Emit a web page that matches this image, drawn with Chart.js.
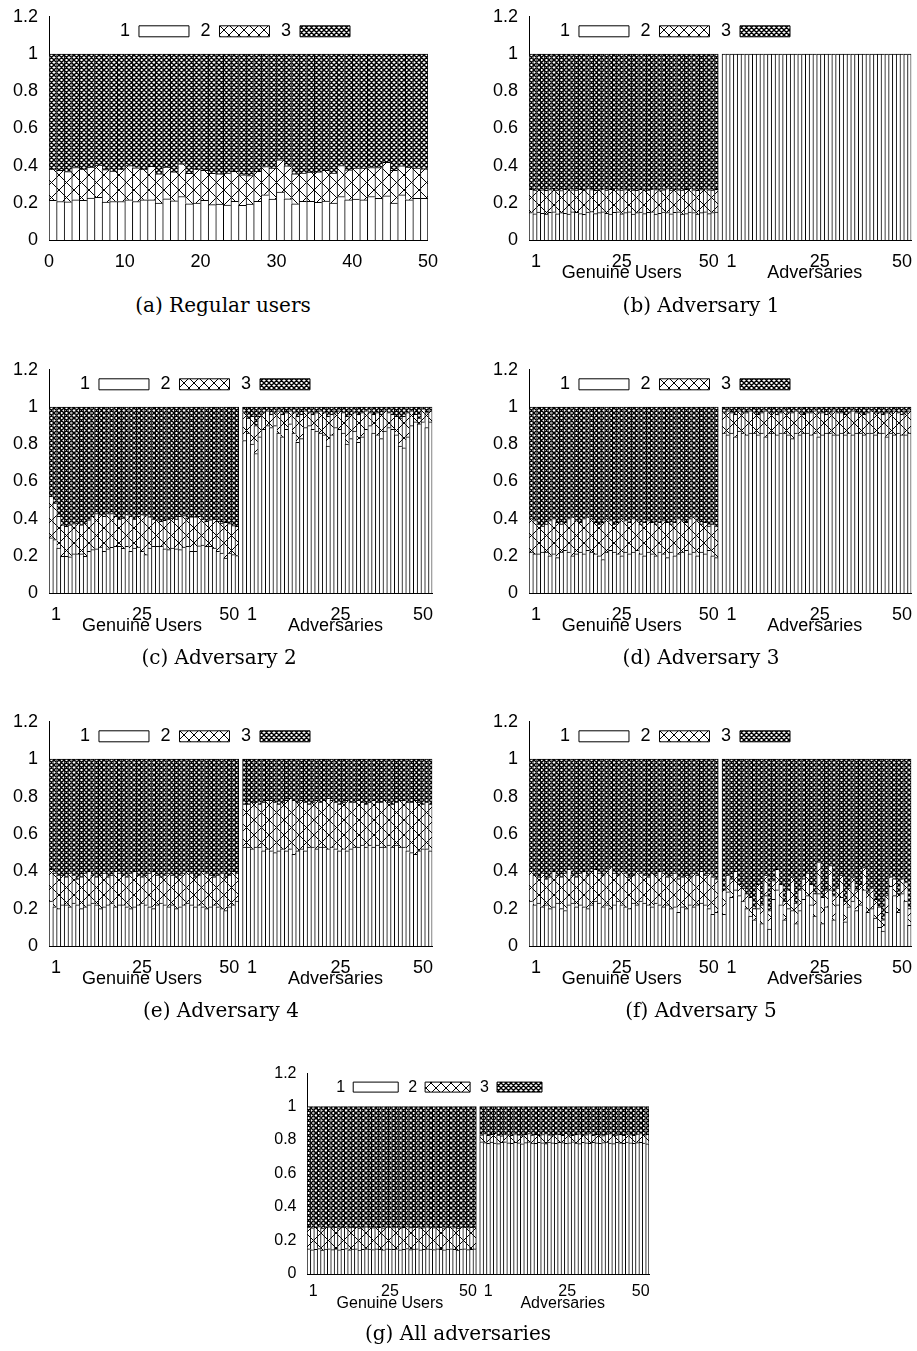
<!DOCTYPE html>
<html><head><meta charset="utf-8">
<script src="https://cdn.jsdelivr.net/npm/chart.js@4.4.0/dist/chart.umd.min.js"></script>
<style>
html,body{margin:0;padding:0;background:#fff;}
body{width:917px;height:1351px;position:relative;overflow:hidden;}
.wrap{position:absolute;}
.wrap canvas{display:block;}
.cap{position:absolute;width:320px;text-align:center;font-family:'DejaVu Serif',serif;font-size:20px;line-height:20px;color:#000;white-space:nowrap;}
</style></head><body>
<script>
// ---------------- data (fraction boundaries) ----------------
const seriesNames = ['1', '2', '3'];
const regularTicks = [0, 10, 20, 30, 40, 50];
const tickSlots = [1, 25, 50];
const genuineTickLabels = ['  1', ['25', 'Genuine Users'], '50   '];
const adversaryTickLabels = ['   1', ['  25', 'Adversaries'], '50   '];
const captions = ['(a) Regular users', '(b) Adversary 1', '(c) Adversary 2', '(d) Adversary 3',
  '(e) Adversary 4', '(f) Adversary 5', '(g) All adversaries'];

// (a) regular users: top of class 1, top of class 2
const regularTop1 = [0.213,0.207,0.205,0.216,0.213,0.225,0.229,0.204,0.207,0.207,
  0.216,0.207,0.216,0.216,0.199,0.222,0.211,0.234,0.195,0.199,
  0.213,0.190,0.193,0.188,0.208,0.186,0.193,0.208,0.243,0.220,
  0.258,0.222,0.195,0.208,0.208,0.202,0.209,0.199,0.234,0.216,
  0.220,0.216,0.234,0.224,0.238,0.199,0.243,0.216,0.224,0.224];
const regularTop2 = [0.381,0.374,0.368,0.390,0.381,0.392,0.403,0.378,0.370,0.381,
  0.400,0.388,0.381,0.396,0.356,0.392,0.366,0.410,0.358,0.381,
  0.374,0.358,0.356,0.360,0.369,0.351,0.347,0.369,0.395,0.386,
  0.431,0.399,0.356,0.360,0.365,0.366,0.374,0.360,0.400,0.377,
  0.386,0.386,0.390,0.390,0.417,0.374,0.399,0.392,0.386,0.383];

// (b) adversary 1
const adv1GenuineTop1 = [0.148,0.141,0.150,0.143,0.139,0.149,0.152,0.141,0.147,0.143,
  0.140,0.151,0.149,0.142,0.138,0.150,0.153,0.142,0.147,0.151,
  0.143,0.140,0.149,0.152,0.141,0.148,0.151,0.140,0.147,0.150,
  0.142,0.149,0.151,0.139,0.143,0.150,0.148,0.141,0.149,0.152,
  0.140,0.142,0.150,0.148,0.139,0.147,0.151,0.142,0.148,0.150];
const adv1GenuineTop2 = [0.272,0.268,0.275,0.270,0.267,0.271,0.278,0.269,0.266,0.272,
  0.280,0.270,0.268,0.273,0.269,0.276,0.271,0.267,0.270,0.274,
  0.269,0.272,0.279,0.270,0.268,0.271,0.275,0.269,0.267,0.273,
  0.270,0.268,0.274,0.271,0.266,0.270,0.277,0.269,0.272,0.270,
  0.268,0.273,0.279,0.270,0.267,0.271,0.275,0.270,0.268,0.272];
const adv1AdversaryTop1 = [1,1,1,1,1,1,1,1,1,1, 1,1,1,1,1,1,1,1,1,1, 1,1,1,1,1,1,1,1,1,1,
  1,1,1,1,1,1,1,1,1,1, 1,1,1,1,1,1,1,1,1,1];
const adv1AdversaryTop2 = [1,1,1,1,1,1,1,1,1,1, 1,1,1,1,1,1,1,1,1,1, 1,1,1,1,1,1,1,1,1,1,
  1,1,1,1,1,1,1,1,1,1, 1,1,1,1,1,1,1,1,1,1];

// (c) adversary 2
const adv2GenuineTop1 = [0.296,0.287,0.242,0.197,0.197,0.194,0.210,0.210,0.210,0.197,
  0.224,0.233,0.237,0.247,0.224,0.237,0.246,0.251,0.251,0.240,
  0.251,0.224,0.242,0.247,0.224,0.206,0.242,0.251,0.251,0.251,
  0.237,0.233,0.242,0.237,0.233,0.247,0.251,0.224,0.224,0.254,
  0.258,0.251,0.251,0.242,0.224,0.215,0.188,0.215,0.206,0.201];
const adv2GenuineTop2 = [0.520,0.484,0.412,0.367,0.358,0.367,0.373,0.376,0.367,0.376,
  0.394,0.412,0.427,0.421,0.412,0.427,0.427,0.412,0.398,0.403,
  0.421,0.412,0.398,0.412,0.421,0.416,0.409,0.398,0.394,0.385,
  0.391,0.398,0.403,0.398,0.412,0.416,0.403,0.409,0.409,0.412,
  0.398,0.385,0.394,0.398,0.385,0.376,0.380,0.373,0.362,0.358];
const adv2AdversaryTop1 = [0.82,0.86,0.80,0.75,0.84,0.88,0.90,0.89,0.90,0.86,
  0.84,0.88,0.91,0.86,0.81,0.83,0.89,0.90,0.88,0.87,
  0.86,0.85,0.79,0.85,0.89,0.88,0.86,0.80,0.83,0.87,
  0.81,0.84,0.88,0.90,0.86,0.85,0.83,0.87,0.89,0.88,
  0.85,0.79,0.78,0.84,0.90,0.92,0.91,0.92,0.89,0.92];
const adv2AdversaryTop2 = [0.97,0.94,0.95,0.90,0.95,0.97,0.98,0.96,0.97,0.98,
  0.96,0.97,0.98,0.97,0.95,0.96,0.98,0.97,0.96,0.97,
  0.98,0.97,0.95,0.96,0.97,0.98,0.97,0.95,0.96,0.97,
  0.96,0.97,0.98,0.97,0.96,0.97,0.96,0.98,0.97,0.96,
  0.95,0.94,0.95,0.97,0.98,0.96,0.94,0.99,0.97,0.98];

// (d) adversary 3
const adv3GenuineTop1 = [0.22,0.21,0.21,0.22,0.22,0.20,0.21,0.19,0.22,0.23,
  0.22,0.20,0.21,0.22,0.21,0.23,0.22,0.21,0.20,0.18,
  0.22,0.23,0.22,0.21,0.20,0.22,0.21,0.22,0.23,0.21,
  0.20,0.22,0.21,0.20,0.22,0.21,0.19,0.22,0.20,0.21,
  0.22,0.23,0.21,0.22,0.20,0.22,0.21,0.23,0.20,0.19];
const adv3GenuineTop2 = [0.40,0.39,0.37,0.36,0.37,0.39,0.40,0.38,0.37,0.38,
  0.40,0.41,0.39,0.38,0.40,0.41,0.40,0.38,0.37,0.38,
  0.40,0.39,0.37,0.38,0.40,0.39,0.38,0.40,0.39,0.37,
  0.38,0.39,0.38,0.37,0.38,0.39,0.38,0.37,0.38,0.40,
  0.39,0.38,0.40,0.41,0.39,0.37,0.38,0.36,0.37,0.36];
const adv3AdversaryTop1 = [0.86,0.85,0.86,0.84,0.87,0.86,0.85,0.86,0.86,0.85,
  0.86,0.84,0.86,0.86,0.85,0.86,0.86,0.85,0.83,0.86,
  0.85,0.86,0.86,0.85,0.86,0.84,0.85,0.86,0.86,0.85,
  0.85,0.86,0.85,0.86,0.85,0.86,0.86,0.85,0.86,0.86,
  0.85,0.86,0.86,0.84,0.86,0.85,0.86,0.85,0.85,0.86];
const adv3AdversaryTop2 = [0.97,0.98,0.97,0.96,0.98,0.97,0.97,0.98,0.97,0.96,
  0.97,0.98,0.97,0.97,0.96,0.97,0.98,0.97,0.97,0.98,
  0.97,0.96,0.97,0.97,0.98,0.97,0.97,0.96,0.97,0.98,
  0.97,0.97,0.96,0.97,0.98,0.97,0.97,0.96,0.97,0.98,
  0.97,0.97,0.96,0.97,0.97,0.98,0.97,0.96,0.97,0.98];

// (e) adversary 4
const adv4GenuineTop1 = [0.24,0.21,0.20,0.22,0.22,0.21,0.23,0.22,0.20,0.21,
  0.22,0.23,0.22,0.20,0.21,0.22,0.23,0.21,0.22,0.22,
  0.21,0.20,0.21,0.22,0.23,0.22,0.21,0.20,0.22,0.23,
  0.22,0.21,0.22,0.20,0.21,0.22,0.23,0.22,0.21,0.22,
  0.21,0.20,0.21,0.22,0.21,0.20,0.19,0.21,0.22,0.24];
const adv4GenuineTop2 = [0.41,0.39,0.38,0.38,0.37,0.39,0.38,0.36,0.37,0.39,
  0.40,0.38,0.37,0.38,0.39,0.37,0.38,0.40,0.39,0.38,
  0.37,0.39,0.40,0.38,0.37,0.38,0.39,0.40,0.38,0.37,
  0.38,0.39,0.38,0.37,0.38,0.39,0.40,0.39,0.37,0.38,
  0.40,0.39,0.38,0.37,0.38,0.39,0.37,0.38,0.40,0.39];
const adv4AdversaryTop1 = [0.53,0.53,0.52,0.53,0.53,0.51,0.52,0.51,0.50,0.51,
  0.52,0.51,0.52,0.49,0.51,0.52,0.51,0.53,0.53,0.52,
  0.53,0.53,0.52,0.53,0.52,0.51,0.52,0.51,0.52,0.53,
  0.53,0.54,0.53,0.54,0.53,0.54,0.53,0.53,0.54,0.53,
  0.54,0.53,0.53,0.51,0.50,0.49,0.51,0.52,0.52,0.51];
const adv4AdversaryTop2 = [0.76,0.76,0.77,0.77,0.76,0.77,0.78,0.78,0.77,0.76,
  0.77,0.78,0.79,0.78,0.77,0.78,0.77,0.76,0.77,0.78,
  0.77,0.78,0.79,0.78,0.77,0.76,0.77,0.78,0.77,0.77,
  0.78,0.77,0.76,0.77,0.78,0.77,0.77,0.78,0.77,0.76,
  0.77,0.78,0.78,0.77,0.77,0.78,0.77,0.76,0.77,0.76];

// (f) adversary 5
const adv5GenuineTop1 = [0.24,0.22,0.23,0.21,0.22,0.20,0.21,0.23,0.20,0.19,
  0.22,0.23,0.21,0.22,0.21,0.20,0.22,0.24,0.23,0.21,
  0.22,0.20,0.22,0.24,0.22,0.21,0.20,0.23,0.22,0.24,
  0.23,0.22,0.21,0.23,0.22,0.21,0.22,0.20,0.21,0.18,
  0.21,0.20,0.22,0.21,0.22,0.23,0.22,0.20,0.17,0.18];
const adv5GenuineTop2 = [0.40,0.38,0.37,0.39,0.36,0.37,0.40,0.38,0.37,0.39,
  0.41,0.38,0.37,0.39,0.40,0.38,0.40,0.41,0.39,0.38,
  0.40,0.42,0.39,0.38,0.40,0.39,0.37,0.38,0.40,0.39,
  0.38,0.37,0.39,0.38,0.40,0.39,0.37,0.38,0.39,0.36,
  0.37,0.38,0.37,0.39,0.38,0.40,0.38,0.39,0.37,0.36];
const adv5AdversaryTop1 = [0.17,0.29,0.26,0.30,0.27,0.24,0.20,0.16,0.14,0.20,
  0.12,0.27,0.09,0.25,0.30,0.22,0.14,0.20,0.19,0.12,
  0.19,0.25,0.27,0.22,0.16,0.28,0.12,0.21,0.30,0.14,
  0.22,0.26,0.13,0.21,0.24,0.19,0.22,0.30,0.18,0.20,
  0.15,0.10,0.08,0.18,0.32,0.27,0.18,0.28,0.24,0.11];
const adv5AdversaryTop2 = [0.30,0.38,0.36,0.40,0.33,0.31,0.28,0.26,0.20,0.33,
  0.22,0.38,0.19,0.35,0.41,0.33,0.24,0.30,0.37,0.23,
  0.30,0.36,0.39,0.33,0.28,0.45,0.26,0.30,0.43,0.27,
  0.31,0.38,0.24,0.31,0.37,0.30,0.33,0.42,0.29,0.31,
  0.25,0.21,0.14,0.27,0.37,0.36,0.28,0.36,0.34,0.20];

// (g) all adversaries
const allGenuineTop1 = [0.150,0.145,0.148,0.152,0.143,0.149,0.151,0.146,0.150,0.144,
  0.148,0.152,0.145,0.149,0.150,0.143,0.147,0.151,0.149,0.146,
  0.150,0.148,0.144,0.151,0.149,0.147,0.150,0.145,0.148,0.152,
  0.146,0.149,0.150,0.144,0.147,0.151,0.149,0.146,0.150,0.148,
  0.145,0.149,0.151,0.147,0.143,0.149,0.150,0.146,0.148,0.150];
const allGenuineTop2 = [0.280,0.276,0.279,0.283,0.275,0.280,0.282,0.277,0.279,0.276,
  0.281,0.283,0.277,0.280,0.279,0.275,0.278,0.282,0.280,0.277,
  0.281,0.279,0.276,0.282,0.280,0.278,0.281,0.276,0.279,0.283,
  0.277,0.280,0.281,0.276,0.278,0.282,0.280,0.277,0.281,0.279,
  0.276,0.280,0.282,0.278,0.275,0.280,0.281,0.277,0.279,0.281];
const allAdversaryTop1 = [0.790,0.785,0.780,0.788,0.782,0.779,0.786,0.790,0.784,0.781,
  0.787,0.783,0.778,0.785,0.789,0.782,0.780,0.786,0.784,0.779,
  0.788,0.783,0.781,0.787,0.785,0.780,0.784,0.789,0.782,0.779,
  0.786,0.784,0.781,0.787,0.783,0.780,0.785,0.788,0.782,0.779,
  0.786,0.783,0.781,0.788,0.784,0.780,0.785,0.787,0.782,0.778];
const allAdversaryTop2 = [0.832,0.838,0.828,0.835,0.840,0.830,0.826,0.836,0.833,0.829,
  0.837,0.831,0.827,0.834,0.839,0.830,0.835,0.828,0.833,0.838,
  0.831,0.827,0.836,0.834,0.829,0.840,0.832,0.828,0.835,0.837,
  0.830,0.833,0.839,0.829,0.834,0.831,0.827,0.836,0.838,0.830,
  0.832,0.835,0.829,0.837,0.833,0.828,0.836,0.839,0.831,0.834];

// ---------------- layout of the seven panels (page pixels) ----------------
const panels = [
  {cap: captions[0], kind: 'regular', top1: regularTop1, top2: regularTop2,
   L: 49, R: 428, T: 16.8, B: 240, capX: 223, capY: 312, legendRight: 301, fs: 18},
  {cap: captions[1], gen: [adv1GenuineTop1, adv1GenuineTop2], adv: [adv1AdversaryTop1, adv1AdversaryTop2],
   L: 529, R: 911, T: 16.8, B: 240, capX: 701, capY: 312, legendRight: 261, fs: 18},
  {cap: captions[2], gen: [adv2GenuineTop1, adv2GenuineTop2], adv: [adv2AdversaryTop1, adv2AdversaryTop2],
   L: 49, R: 432, T: 370.1, B: 593.3, capX: 219, capY: 664, legendRight: 261, fs: 18},
  {cap: captions[3], gen: [adv3GenuineTop1, adv3GenuineTop2], adv: [adv3AdversaryTop1, adv3AdversaryTop2],
   L: 529, R: 911, T: 370.1, B: 593.3, capX: 701, capY: 664, legendRight: 261, fs: 18},
  {cap: captions[4], gen: [adv4GenuineTop1, adv4GenuineTop2], adv: [adv4AdversaryTop1, adv4AdversaryTop2],
   L: 49, R: 432, T: 722, B: 945.7, capX: 221, capY: 1016.5, legendRight: 261, fs: 18},
  {cap: captions[5], gen: [adv5GenuineTop1, adv5GenuineTop2], adv: [adv5AdversaryTop1, adv5AdversaryTop2],
   L: 529, R: 911, T: 722, B: 945.7, capX: 701, capY: 1016.5, legendRight: 261, fs: 18},
  {cap: captions[6], gen: [allGenuineTop1, allGenuineTop2], adv: [allAdversaryTop1, allAdversaryTop2],
   L: 307, R: 649, T: 1073.2, B: 1274, capX: 458, capY: 1340, legendRight: 235, fs: 16}
];

Chart.defaults.font.family = "'Liberation Sans', Arial, sans-serif";
Chart.defaults.font.size = 18;
Chart.defaults.color = '#000';

function hatchPattern(ctx, size, lw) {
  const c = document.createElement('canvas');
  c.width = c.height = size;
  const g = c.getContext('2d');
  g.fillStyle = '#fff'; g.fillRect(0, 0, size, size);
  g.strokeStyle = '#000'; g.lineWidth = lw;
  g.beginPath();
  for (const d of [-size, 0, size]) {
    g.moveTo(d, 0); g.lineTo(d + size, size);
    g.moveTo(d + size, 0); g.lineTo(d, size);
  }
  g.stroke();
  return ctx.createPattern(c, 'repeat');
}

function edgeWidth(c) {
  const d = c.dataset.data, i = c.dataIndex;
  const last = i === d.length - 1 || d[i + 1] === null;
  return {top: 1, left: 1, right: last ? 1 : 0, bottom: 0};
}

const legendInside = {
  id: 'legendInside',
  afterLayout(chart, args, o) {
    const lg = chart.legend, ca = chart.chartArea;
    if (!lg) return;
    lg.left = ca.left - 40;
    lg.right = ca.left + o.right + o.pad;
    lg.width = lg.right - lg.left;
    lg.top = ca.top + o.boxTop - o.pad - Math.max((o.fs - o.bh) / 2, 0);
    lg.height = o.pad * 2 + Math.max(o.fs, o.bh) + 4;
    lg.bottom = lg.top + lg.height;
  }
};

function buildCategories(n) {
  const cats = [];
  for (let i = 0; i < 2 * n + 1; i++) cats.push('');
  tickSlots.forEach((s, k) => {
    cats[s - 1] = genuineTickLabels[k];
    cats[n + s] = adversaryTickLabels[k];
  });
  return cats;
}

const fmt = (v) => String(Number(Number(v).toFixed(2)));

function makeConfig(canvas, p) {
  const ctx = canvas.getContext('2d');
  const coarse = hatchPattern(ctx, 15, 1), fine = hatchPattern(ctx, 5, 1.35), coarseKey = hatchPattern(ctx, 10, 1);
  const fills = ['#ffffff', coarse, fine];
  const keyFills = ['#ffffff', coarseKey, fine];
  const small = p.fs < 18;
  const boxW = small ? 45 : 50, boxH = small ? 10 : 11, pad = small ? 10 : 11.5;
  const tickFont = {size: p.fs, lineHeight: small ? '12px' : '10.5px'};
  const xPad = small ? 12 : 17;
  let labels, d1, d2, d3, xScale;
  const axisBorder = {display: true, color: '#000', width: 1};
  if (p.kind === 'regular') {
    d1 = p.top1.map((v, i) => ({x: i + 0.5, y: v}));
    d2 = p.top1.map((v, i) => ({x: i + 0.5, y: [v, p.top2[i]]}));
    d3 = p.top2.map((v, i) => ({x: i + 0.5, y: [v, 1]}));
    xScale = {type: 'linear', min: regularTicks[0], max: regularTicks[regularTicks.length - 1], offset: false,
      grid: {display: false, drawTicks: false}, border: axisBorder,
      afterBuildTicks: (s) => { s.ticks = regularTicks.map(v => ({value: v})); },
      afterFit: (s) => { s.height = Math.ceil(s.height); },
      ticks: {font: tickFont, padding: xPad, maxRotation: 0, minRotation: 0, callback: fmt}};
  } else {
    const n = p.gen[0].length;
    const t1 = [...p.gen[0], null, ...p.adv[0]];
    const t2 = [...p.gen[1], null, ...p.adv[1]];
    labels = buildCategories(n);
    d1 = t1;
    d2 = t1.map((v, i) => v === null ? null : [v, t2[i]]);
    d3 = t2.map(v => v === null ? null : [v, 1]);
    xScale = {type: 'category', offset: true,
      grid: {display: false, drawTicks: false}, border: axisBorder,
      afterFit: (s) => { s.height = Math.ceil(s.height); },
      ticks: {autoSkip: false, maxRotation: 0, minRotation: 0, font: tickFont, padding: xPad}};
  }
  const common = {grouped: false, barPercentage: 1, categoryPercentage: 1,
    borderColor: '#000', borderWidth: edgeWidth, borderSkipped: false};
  const data = {datasets: [
    Object.assign({label: seriesNames[0], data: d1, backgroundColor: fills[0]}, common),
    Object.assign({label: seriesNames[1], data: d2, backgroundColor: fills[1]}, common),
    Object.assign({label: seriesNames[2], data: d3, backgroundColor: fills[2]}, common)
  ]};
  if (labels) data.labels = labels;
  return {
    type: 'bar',
    data,
    options: {
      responsive: false, maintainAspectRatio: false, animation: false, devicePixelRatio: 1, events: [],
      layout: {padding: {top: 14, right: 16, left: 2, bottom: 2}},
      plugins: {
        tooltip: {enabled: false},
        legend: {position: 'top', align: 'start', rtl: true, reverse: true, maxHeight: 1,
          labels: {boxWidth: boxW, boxHeight: boxH, padding: pad, color: '#000', font: {size: p.fs},
            generateLabels: (chart) => chart.data.datasets.map((ds, i) => ({
              text: ds.label, fillStyle: keyFills[i], strokeStyle: '#000', lineWidth: 1,
              hidden: false, datasetIndex: i}))}},
        legendInside: {right: p.legendRight, pad: pad, boxTop: 9, fs: p.fs, bh: boxH}
      },
      scales: {
        x: xScale,
        y: {min: 0, max: 1.2, grid: {display: false, drawTicks: false}, border: axisBorder,
          afterFit: (s) => { s.width = Math.ceil(s.width); },
          ticks: {stepSize: 0.2, padding: small ? 10.5 : 11, font: {size: p.fs}, callback: fmt}}
      }
    },
    plugins: [legendInside]
  };
}

function makeCanvas(w, h) {
  const c = document.createElement('canvas');
  c.width = w; c.height = h;
  c.style.width = w + 'px'; c.style.height = h + 'px';
  return c;
}

panels.forEach(p => {
  const wrap = document.createElement('div');
  wrap.className = 'wrap';
  document.body.appendChild(wrap);
  const W0 = Math.round(p.R - p.L) + 90, H0 = Math.round(p.B - p.T) + 90;
  let c = makeCanvas(W0, H0);
  wrap.appendChild(c);
  let chart = new Chart(c, makeConfig(c, p));
  let ca = chart.chartArea;
  const W = Math.round(W0 + (p.R - p.L) - (ca.right - ca.left));
  const H = Math.round(H0 + (p.B - p.T) - (ca.bottom - ca.top));
  chart.destroy();
  c.remove();
  c = makeCanvas(W, H);
  wrap.appendChild(c);
  chart = new Chart(c, makeConfig(c, p));
  ca = chart.chartArea;
  wrap.style.left = Math.round(p.L - ca.left) + 'px';
  wrap.style.top = Math.round(p.T - ca.top) + 'px';

  const cap = document.createElement('div');
  cap.className = 'cap';
  cap.textContent = p.cap;
  cap.style.left = (p.capX - 160) + 'px';
  cap.style.top = Math.round(p.capY - 17) + 'px';
  document.body.appendChild(cap);
});
</script>
</body></html>
